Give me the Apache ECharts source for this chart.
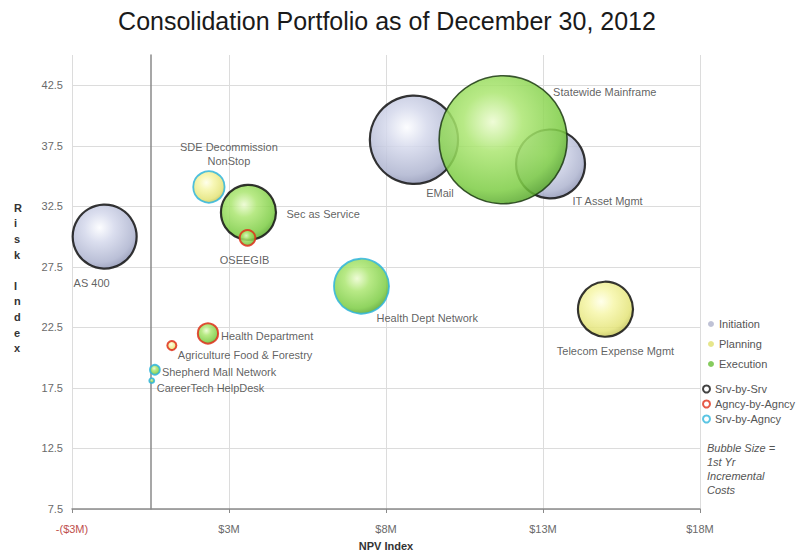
<!DOCTYPE html>
<html>
<head>
<meta charset="utf-8">
<title>Consolidation Portfolio</title>
<script src="https://cdn.jsdelivr.net/npm/echarts@6/dist/echarts.min.js"></script>
<style>
  html, body { margin: 0; padding: 0; background: #fff; }
  #chart { width: 803px; height: 556px; }
</style>
</head>
<body>
<div id="chart"></div>
<script>
// Portfolio projects: NPV ($M), risk index, first-year incremental cost ($K)
const projects = ['AS 400', 'EMail', 'IT Asset Mgmt', 'SDE Decommission\nNonStop',
  'Agriculture Food & Forestry', 'Telecom Expense Mgmt', 'Statewide Mainframe',
  'Sec as Service', 'OSEEGIB', 'Health Dept Network', 'Health Department',
  'Shepherd Mall Network', 'CareerTech HelpDesk'];
const npv   = [-1.46, 8.39, 12.74, 1.86, 0.68, 14.49, 11.23, 3.12, 3.09, 6.72, 1.83, 0.14, 0.04];
const risk  = [30.0, 38.0, 36.0, 34.1, 21.0, 24.0, 38.0, 32.0, 29.9, 25.9, 22.0, 19.0, 18.1];
const cost  = [500, 950, 580, 120, 10, 370, 2000, 370, 30, 370, 50, 12, 3];
const phase = ['Initiation', 'Initiation', 'Initiation', 'Planning', 'Planning', 'Planning',
  'Execution', 'Execution', 'Execution', 'Execution', 'Execution', 'Execution', 'Execution'];
const sourcing = ['Srv-by-Srv', 'Srv-by-Srv', 'Srv-by-Srv', 'Srv-by-Agncy', 'Agncy-by-Agncy',
  'Srv-by-Srv', 'Srv-by-Srv', 'Srv-by-Srv', 'Agncy-by-Agncy', 'Srv-by-Agncy',
  'Agncy-by-Agncy', 'Srv-by-Agncy', 'Srv-by-Agncy'];

const phases = ['Initiation', 'Planning', 'Execution'];
const sourcingTypes = ['Srv-by-Srv', 'Agncy-by-Agncy', 'Srv-by-Agncy'];
const xTicks = [-2.5, 2.5, 7.5, 12.5, 17.5];
const yTicks = [7.5, 12.5, 17.5, 22.5, 27.5, 32.5, 37.5, 42.5];

// ---- styling ----
const phaseFill = {
  Initiation: ['#fcfdff', '#d5d9ec', '#afb5d0', '#9096b5'],
  Planning:   ['#ffffe8', '#f6f6aa', '#e4e47a', '#c4c45a'],
  Execution:  ['#ecfbd0', '#ace672', '#7ecd46', '#5aa92e']
};
const phaseDot = { Initiation: '#b4b8cf', Planning: '#e2e278', Execution: '#72c244' };
const ringColor = { 'Srv-by-Srv': '#141414', 'Agncy-by-Agncy': '#e0321c', 'Srv-by-Agncy': '#32b6dc' };
const ringWidth = { 'Srv-by-Srv': 2.2, 'Agncy-by-Agncy': 2, 'Srv-by-Agncy': 1.8 };

// label placement relative to bubble centre: [dx, dy, align]
const labelPlace = {
  'AS 400': [-13, 46, 'center'],
  'EMail': [26, 53, 'center'],
  'IT Asset Mgmt': [22, 37, 'left'],
  'SDE Decommission\nNonStop': [20, -33, 'center'],
  'Agriculture Food & Forestry': [6, 9, 'left'],
  'Telecom Expense Mgmt': [10, 42, 'center'],
  'Statewide Mainframe': [50, -48, 'left'],
  'Sec as Service': [38, 2, 'left'],
  'OSEEGIB': [-3, 22, 'center'],
  'Health Dept Network': [15, 32, 'left'],
  'Health Department': [13, 3, 'left'],
  'Shepherd Mall Network': [7, 2, 'left'],
  'CareerTech HelpDesk': [5, 7, 'left']
};

function sphere(stops) {
  return {
    type: 'radial', x: 0.42, y: 0.36, r: 0.66,
    colorStops: [
      { offset: 0, color: stops[0] },
      { offset: 0.35, color: stops[1] },
      { offset: 0.82, color: stops[2] },
      { offset: 1, color: stops[3] }
    ]
  };
}

const sizeScale = 2.862; // diameter px per sqrt($K)

const bubbleSeries = phases.map(function (p) {
  const items = [];
  projects.forEach(function (name, i) {
    if (phase[i] !== p) return;
    const s = sourcing[i];
    const pl = labelPlace[name];
    const big = name === 'Statewide Mainframe';
    items.push({
      name: name,
      value: [npv[i], risk[i], cost[i]],
      itemStyle: {
        borderColor: big ? '#1d3a14' : ringColor[s],
        borderWidth: big ? 1.6 : ringWidth[s]
      },
      label: {
        offset: [pl[0], pl[1]],
        align: pl[2]
      }
    });
  });
  return {
    name: p,
    type: 'scatter',
    data: items,
    symbol: 'circle',
    symbolSize: function (v) { return sizeScale * Math.sqrt(v[2]); },
    itemStyle: { color: sphere(phaseFill[p]), opacity: 0.86 },
    label: {
      show: true,
      position: 'inside',
      verticalAlign: 'middle',
      formatter: '{b}',
      color: '#474747',
      fontSize: 11,
      lineHeight: 14,
      fontFamily: 'Liberation Sans, Arial, sans-serif'
    },
    emphasis: { disabled: true },
    z: 3
  };
});

// sourcing key entries (legend rings)
const ringSeries = sourcingTypes.map(function (s) {
  return {
    name: s,
    type: 'scatter',
    data: [],
    itemStyle: { color: '#ffffff', borderColor: ringColor[s], borderWidth: 2 }
  };
});

const font = 'Liberation Sans, Arial, sans-serif';

const option = {
  backgroundColor: '#ffffff',
  animation: false,
  title: {
    text: 'Consolidation Portfolio as of December 30, 2012',
    left: 382, top: 3, textAlign: 'center',
    textStyle: { fontFamily: font, fontSize: 25, fontWeight: 'normal', color: '#1a1a1a' }
  },
  grid: { left: 72, right: 103, top: 55, bottom: 40, containLabel: false },
  xAxis: {
    type: 'value',
    min: -2.5, max: 17.5, interval: 2.5,
    name: 'NPV Index',
    nameLocation: 'middle',
    nameGap: 31,
    nameTextStyle: { fontFamily: font, fontSize: 11, fontWeight: 'bold', color: '#333' },
    axisLine: { onZero: false, lineStyle: { color: '#8a8a8a', width: 1.5 } },
    axisTick: { show: true, length: 4, customValues: xTicks, lineStyle: { color: '#8a8a8a' } },
    axisLabel: {
      customValues: xTicks,
      margin: 14,
      fontFamily: font, fontSize: 11,
      color: function (v) { return v < 0 ? '#c0504d' : '#6a6a6a'; },
      formatter: function (v) {
        const m = Math.round(Math.abs(v));
        return v < 0 ? '-($' + m + 'M)' : '$' + m + 'M';
      }
    },
    splitLine: { show: true, lineStyle: { color: '#dcdcdc', width: 1 } }
  },
  yAxis: {
    type: 'value',
    min: 7.5, max: 45, interval: 2.5,
    axisLine: { show: true, onZero: true, lineStyle: { color: '#8a8a8a', width: 1.5 } },
    axisTick: { show: false, customValues: yTicks },
    axisLabel: {
      customValues: yTicks,
      margin: 9,
      fontFamily: font, fontSize: 11, color: '#6a6a6a',
      formatter: function (v) { return v.toFixed(1); }
    },
    splitLine: { show: true, lineStyle: { color: '#dcdcdc', width: 1 } }
  },
  legend: [
    {
      data: phases.map(function (p) {
        return { name: p, itemStyle: { color: phaseDot[p], borderWidth: 0 } };
      }),
      orient: 'vertical', left: 703, top: 313,
      icon: 'circle', itemWidth: 6, itemHeight: 6, itemGap: 8,
      selectedMode: false,
      textStyle: { fontFamily: font, fontSize: 11, color: '#555', lineHeight: 12 }
    },
    {
      data: sourcingTypes,
      orient: 'vertical', left: 697, top: 378,
      icon: 'circle', itemWidth: 7, itemHeight: 7, itemGap: 3,
      selectedMode: false,
      textStyle: { fontFamily: font, fontSize: 11, color: '#555', lineHeight: 12 }
    }
  ],
  graphic: [
    {
      type: 'text', left: 14, top: 200,
      style: {
        text: 'R\ni\ns\nk\n\nI\nn\nd\ne\nx',
        fontFamily: font, fontSize: 11, fontWeight: 'bold',
        fill: '#333', lineHeight: 15.6, align: 'center'
      }
    },
    {
      type: 'text', left: 707, top: 441,
      style: {
        text: 'Bubble Size =\n1st Yr\nIncremental\nCosts',
        fontFamily: font, fontSize: 11, fontStyle: 'italic',
        fill: '#555', lineHeight: 14
      }
    }
  ],
  series: bubbleSeries.concat(ringSeries)
};

const chart = echarts.init(document.getElementById('chart'), null, { renderer: 'svg' });
chart.setOption(option);
</script>
</body>
</html>
